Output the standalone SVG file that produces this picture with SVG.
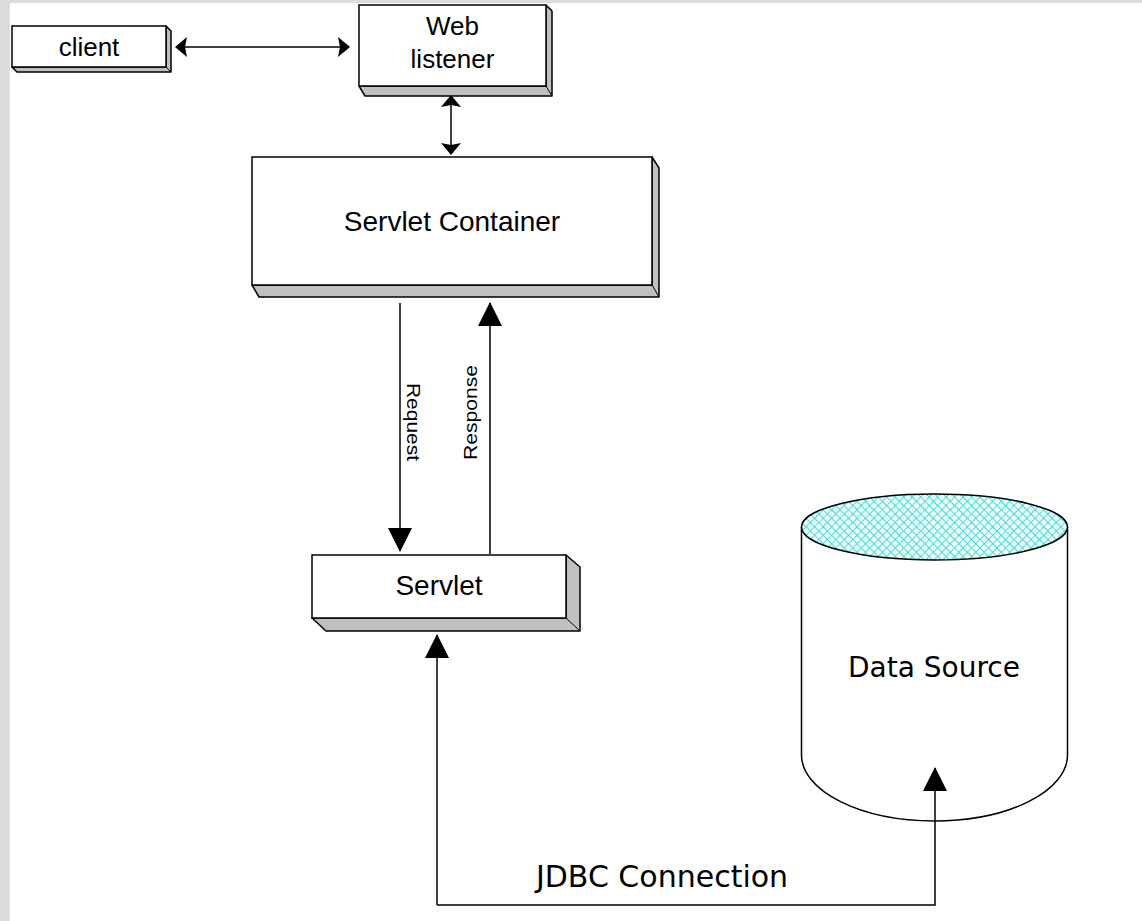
<svg xmlns="http://www.w3.org/2000/svg" width="1142" height="921" viewBox="0 0 1142 921">
<defs>
<style>
.face{fill:#ffffff;stroke:#000;stroke-width:1.5}
.side{fill:#c0c0c0;stroke:#000;stroke-width:1.5;stroke-linejoin:round}
.lbl{font-family:"Liberation Sans",Arial,sans-serif;fill:#000;text-anchor:middle}
.rot{font-family:"Liberation Sans",Arial,sans-serif;fill:#000;text-anchor:start;font-size:19px}
.lbl2{font-family:"DejaVu Sans",Verdana,sans-serif;fill:#000;text-anchor:middle}
.edge{fill:none;stroke:#000;stroke-width:1.5}
</style>
<marker id="big" viewBox="0 0 24 24" markerWidth="24" markerHeight="24" refX="23" refY="12" orient="auto" markerUnits="userSpaceOnUse">
<path d="M0,0 L24,12 L0,24 z" fill="#000"/>
</marker>
<marker id="small" viewBox="0 0 12 20" markerWidth="12" markerHeight="20" refX="11" refY="10" orient="auto-start-reverse" markerUnits="userSpaceOnUse">
<path d="M0,0 L12,10 L0,20 L2,10 z" fill="#000"/>
</marker>
<pattern id="hatch" width="6" height="6" patternUnits="userSpaceOnUse" patternTransform="rotate(45)">
<rect width="6" height="6" fill="#eafdfd"/>
<path d="M0,0 H6 M0,0 V6" stroke="#4ad6d6" stroke-width="1.8"/>
</pattern>
</defs>
<rect x="0" y="0" width="1142" height="921" fill="#dcdcdc"/>
<rect x="10" y="3" width="1132" height="918" fill="#ffffff"/>

<g id="client">
<path class="side" d="M166,26 L171,31 L171,72 L17,72 L12,67 L166,67 z"/>
<line x1="166" y1="67" x2="171" y2="72" stroke="#000" stroke-width="1"/>
<rect class="face" x="12" y="26" width="154" height="41"/>
<text class="lbl" x="89" y="56" font-size="26">client</text>
</g>

<g id="web-listener">
<path class="side" d="M546,5 L552,11 L552,96 L365,96 L359,86 L546,86 z"/>
<line x1="546" y1="86" x2="552" y2="96" stroke="#000" stroke-width="1"/>
<rect class="face" x="359" y="5" width="187" height="81"/>
<text class="lbl" x="452.5" y="35" font-size="26">Web</text>
<text class="lbl" x="452.5" y="68" font-size="26">listener</text>
</g>

<g id="servlet-container">
<path class="side" d="M652,157 L659,168 L659,297 L259,297 L252,285 L652,285 z"/>
<line x1="652" y1="285" x2="659" y2="297" stroke="#000" stroke-width="1"/>
<rect class="face" x="252" y="157" width="400" height="128"/>
<text class="lbl" x="452" y="231" font-size="28">Servlet Container</text>
</g>

<g id="servlet">
<path class="side" d="M566,555 L580,567 L580,631 L326,631 L312,618 L566,618 z"/>
<line x1="566" y1="618" x2="580" y2="631" stroke="#000" stroke-width="1"/>
<rect class="face" x="312" y="555" width="254" height="63"/>
<text class="lbl" x="439" y="595" font-size="28">Servlet</text>
</g>

<g id="data-source">
<path d="M801.5,527 V755 A133,66 0 0 0 1067.5,755 V527" fill="#ffffff" stroke="#000" stroke-width="1.5"/>
<ellipse cx="934.5" cy="527" rx="133" ry="33" fill="url(#hatch)" stroke="#000" stroke-width="1.5"/>
<text class="lbl2" x="934" y="677" font-size="28">Data Source</text>
</g>

<g id="connectors">
<line class="edge" x1="176" y1="47" x2="349" y2="47" marker-start="url(#small)" marker-end="url(#small)"/>
<line class="edge" x1="451" y1="96" x2="451" y2="154" marker-start="url(#small)" marker-end="url(#small)"/>
<line class="edge" x1="400" y1="303" x2="400" y2="551" marker-end="url(#big)"/>
<line class="edge" x1="490" y1="554" x2="490" y2="303" marker-end="url(#big)"/>
<path class="edge" d="M437,905 V635" marker-end="url(#big)"/>
<path class="edge" d="M437,905 H935 V768" marker-end="url(#big)"/>
<text class="rot" transform="translate(407,383) rotate(90)" textLength="78" lengthAdjust="spacingAndGlyphs">Request</text>
<text class="rot" transform="translate(477,460) rotate(-90)" textLength="95" lengthAdjust="spacingAndGlyphs">Response</text>
<text class="lbl2" x="662" y="887" font-size="30">JDBC Connection</text>
</g>
</svg>
